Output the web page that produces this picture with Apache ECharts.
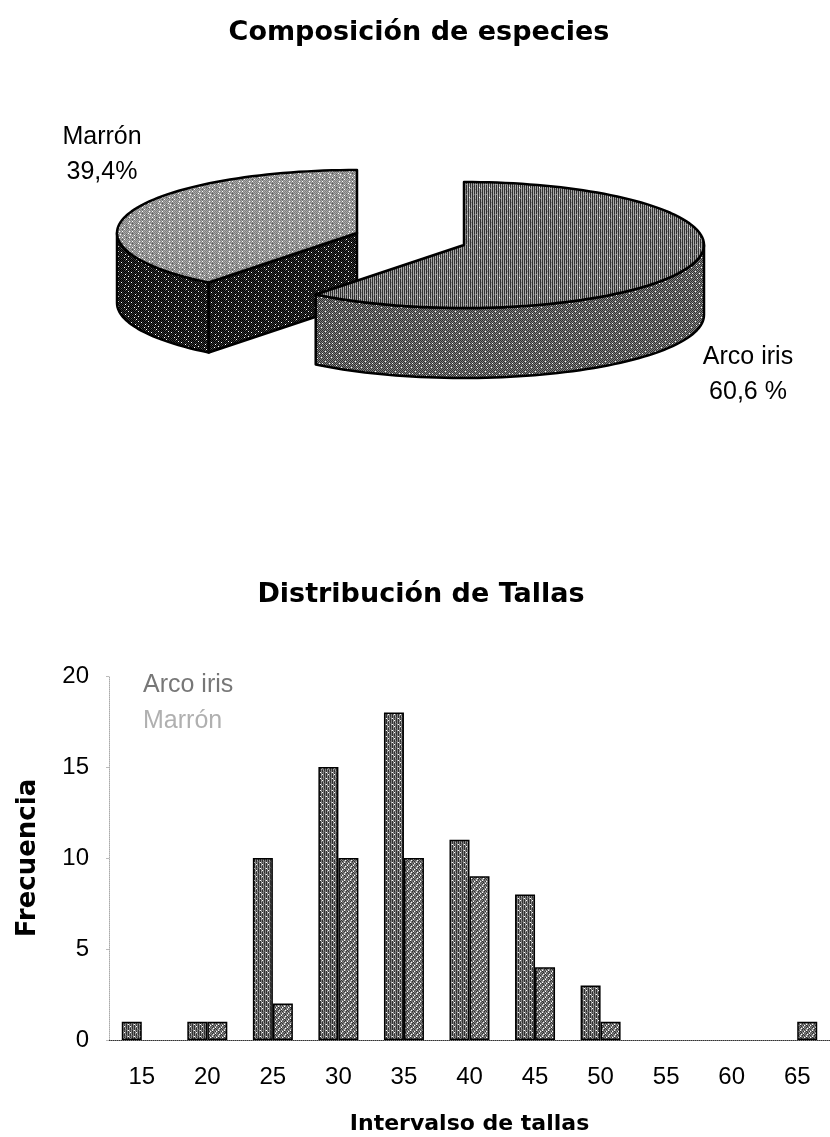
<!DOCTYPE html>
<html>
<head>
<meta charset="utf-8">
<style>html,body{margin:0;padding:0;background:#fff}#chart{width:830px;height:1137px}</style>
<script src="https://cdn.jsdelivr.net/npm/echarts@6/dist/echarts.min.js"></script>
</head>
<body>
<div id="chart"></div>
<script>
// Species composition (exploded 3D-style pie)
const speciesNames = ['Arco iris', 'Marrón'];
const speciesShare = [60.6, 39.4];
const speciesLabels = ['Arco iris\n60,6 %', 'Marrón\n39,4%'];

// Size distribution
const sizeClasses = ['15', '20', '25', '30', '35', '40', '45', '50', '55', '60', '65'];
const arcoIris = [1, 1, 10, 15, 18, 11, 8, 3, 0, 0, 0];
const marron = [0, 1, 2, 10, 10, 9, 4, 1, 0, 0, 1];

const FONT = '"Liberation Sans", Arial, sans-serif';
const HEAD_FONT = '"DejaVu Sans", Verdana, sans-serif';

// Small halftone tiles: each character is a grey level from the palette below.
const PALETTE = { k: '#000000', d: '#303030', m: '#585858', g: '#808080', l: '#a8a8a8', w: '#ffffff' };
function tile(rows) {
  const c = document.createElement('canvas');
  c.width = rows[0].length;
  c.height = rows.length;
  const ctx = c.getContext('2d');
  rows.forEach((row, y) => {
    [...row].forEach((ch, x) => {
      ctx.fillStyle = PALETTE[ch];
      ctx.fillRect(x, y, 1, 1);
    });
  });
  return { image: c, repeat: 'repeat' };
}
const fillArcoTop = tile([
  'dldldldldl', 'dldldldgdl', 'dgdldldldl', 'dldldldldl', 'dldlmlgldl',
  'dldldldldl', 'dldgdldldl', 'dldldldldw', 'gldldldldl', 'dldldgdldl'
]);
const fillArcoSide = tile([
  'dgdgdgdgdg', 'gdgdgwgdgd', 'dgdgdgdgdg', 'gdwdgdgdgw', 'dgdgdgdgdg',
  'gdgdgdwdgd', 'dgdgdgdgdg', 'gwgdgdgdgd', 'dgdgdgdwdg', 'gdgdgdgdgd'
]);
const fillMarronTop = tile([
  'glglglglgl', 'lgwglglglw', 'glglglglgl', 'lgmglglgwg', 'wlglglmlgl',
  'lglgwglglg', 'glglglglgl', 'lgwglgmglw', 'glglglglml', 'lgmgwglglg'
]);
const fillMarronSide = tile([
  'kdkdkmkdkd', 'dkdkdkdkwk', 'kwkdkdkdkd', 'dkdkdkmkdk', 'kdkdkwkdkm',
  'dkmkdkdkdk', 'kdkdkdkdwd', 'dkdkwkdkdk', 'kmkdkdkdkd', 'dkdkdkwkdk'
]);
const fillBarArco = tile([
  'dgdgwg', 'dgdlmg', 'dgdgdl', 'mgdgdg', 'dlwgmg', 'dgdldg'
]);
const fillBarMarron = tile([
  'gmgdgl', 'mgdgmw', 'gmgwgd', 'dglgdg', 'gmwgmg', 'wgdmgd'
]);

// Ellipse projection of the pie
const RX = 240, RY = 63, DEPTH = 70;
const centres = [[464, 245], [357, 233]];
const labelAnchors = [[748, 375], [102, 155]];
const topFills = [fillArcoTop, fillMarronTop];
const sideFills = [fillArcoSide, fillMarronSide];

function rimPoint(cx, cy, deg, dz) {
  const a = deg * Math.PI / 180;
  return [cx + RX * Math.sin(a), cy - RY * Math.cos(a) + dz];
}
function arcPoints(cx, cy, from, to, dz) {
  const pts = [];
  const steps = Math.max(2, Math.ceil(Math.abs(to - from) / 2));
  for (let i = 0; i <= steps; i++) pts.push(rimPoint(cx, cy, from + (to - from) * i / steps, dz));
  return pts;
}
const stroke = { stroke: '#000', lineWidth: 2.5, lineJoin: 'round' };

function renderSlice(params, api) {
  const i = params.dataIndex;
  const total = speciesShare.reduce((a, b) => a + b, 0);
  const startDeg = speciesShare.slice(0, i).reduce((a, b) => a + b, 0) / total * 360;
  const endDeg = startDeg + api.value(0) / total * 360;
  const [cx, cy] = centres[i];
  const layer = i === 0 ? 10 : 1; // the larger slice sits in front
  const children = [];

  // Outer wall: only the part of the rim that faces the viewer (90..270 degrees).
  const wallFrom = Math.max(startDeg, 90), wallTo = Math.min(endDeg, 270);
  if (wallTo > wallFrom) {
    children.push({
      type: 'polygon', z2: layer,
      shape: { points: arcPoints(cx, cy, wallFrom, wallTo, 0).concat(arcPoints(cx, cy, wallTo, wallFrom, DEPTH)) },
      style: Object.assign({ fill: sideFills[i] }, stroke)
    });
  }
  // Cut wall running from the centre to the rim when it faces the viewer.
  if (startDeg > 180) {
    const p = rimPoint(cx, cy, startDeg, 0);
    children.push({
      type: 'polygon', z2: layer,
      shape: { points: [[cx, cy], p, [p[0], p[1] + DEPTH], [cx, cy + DEPTH]] },
      style: Object.assign({ fill: sideFills[i] }, stroke)
    });
  }
  // Top face
  children.push({
    type: 'polygon', z2: layer + 1,
    shape: { points: [[cx, cy]].concat(arcPoints(cx, cy, startDeg, endDeg, 0)) },
    style: Object.assign({ fill: topFills[i] }, stroke)
  });
  // Slice label
  children.push({
    type: 'text', z2: 20, x: labelAnchors[i][0], y: labelAnchors[i][1],
    style: { text: speciesLabels[i], fontFamily: FONT, fontSize: 25, lineHeight: 35,
      fill: '#000', align: 'center', verticalAlign: 'middle' }
  });
  return { type: 'group', children };
}

// A zero count has no visible bar, not even an outline on the baseline.
const barData = values => values.map(v => (v === 0 ? { value: 0, itemStyle: { borderWidth: 0 } } : v));

const chart = echarts.init(document.getElementById('chart'), null, { renderer: 'canvas' });
chart.setOption({
  animation: false,
  backgroundColor: '#ffffff',
  title: [
    { text: 'Composición de especies', left: 414, top: 14, textAlign: 'center',
      textStyle: { fontFamily: HEAD_FONT, fontWeight: 'bold', fontSize: 27, color: '#000' } },
    { text: 'Distribución de Tallas', left: 416, top: 576, textAlign: 'center',
      textStyle: { fontFamily: HEAD_FONT, fontWeight: 'bold', fontSize: 27, color: '#000' } }
  ],
  legend: {
    left: 132, top: 668, orient: 'vertical', itemWidth: 0, itemHeight: 0, itemGap: 11, icon: 'rect',
    selectedMode: false,
    textStyle: { fontFamily: FONT, fontSize: 25 },
    data: [
      { name: speciesNames[0], textStyle: { color: '#777777' } },
      { name: speciesNames[1], textStyle: { color: '#b0b0b0' } }
    ]
  },
  grid: { left: 109, right: 0, top: 676, bottom: 97, outerBoundsMode: 'none' },
  xAxis: {
    type: 'category', data: sizeClasses,
    name: 'Intervalso de tallas', nameLocation: 'middle', nameGap: 73,
    nameTextStyle: { fontFamily: HEAD_FONT, fontWeight: 'bold', fontSize: 22, color: '#000' },
    axisLine: { onZero: false, lineStyle: { color: '#333', width: 1, type: 'dotted' } },
    axisTick: { length: 6, lineStyle: { color: '#888', width: 1 } },
    axisLabel: { margin: 25, fontFamily: FONT, fontSize: 24, color: '#000' }
  },
  yAxis: {
    type: 'value', min: 0, max: 20, interval: 5,
    name: 'Frecuencia', nameLocation: 'middle', nameGap: 68,
    nameTextStyle: { fontFamily: HEAD_FONT, fontWeight: 'bold', fontSize: 26, color: '#000' },
    splitLine: { show: false },
    axisLine: { show: true, lineStyle: { color: '#aaa', width: 1, type: 'dotted' } },
    axisTick: { show: true, length: 3, lineStyle: { color: '#bbb', width: 1 } },
    axisLabel: { margin: 20, fontFamily: FONT, fontSize: 24, color: '#000' }
  },
  series: [
    { name: speciesNames[0], type: 'bar', data: barData(arcoIris), barWidth: 20, barGap: '0%',
      itemStyle: { color: fillBarArco, borderColor: '#000', borderWidth: 1.5 } },
    { name: speciesNames[1], type: 'bar', data: barData(marron), barWidth: 20, barGap: '0%',
      itemStyle: { color: fillBarMarron, borderColor: '#000', borderWidth: 1.5 } },
    { type: 'custom', coordinateSystem: 'none', data: speciesShare.map(v => [v]),
      renderItem: renderSlice, silent: true, clip: false, encode: {} }
  ]
});
</script>
</body>
</html>
